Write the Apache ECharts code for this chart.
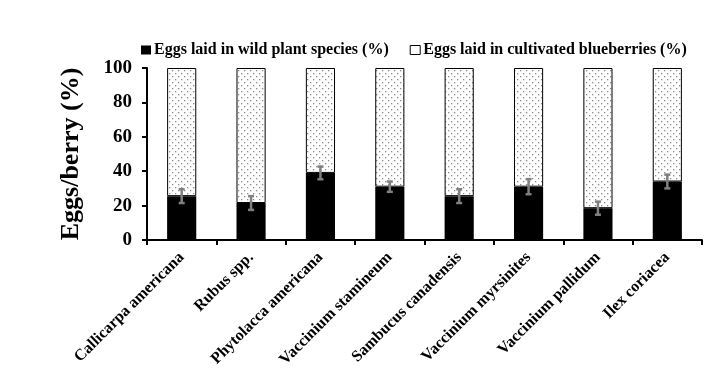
<!DOCTYPE html>
<html><head><meta charset="utf-8">
<script src="https://cdn.jsdelivr.net/npm/echarts@6/dist/echarts.min.js"></script>
<style>html,body{margin:0;padding:0;background:#fff}#c{width:725px;height:381px}</style>
</head><body><div id="c"></div>
<script>
var categories = ['Callicarpa americana','Rubus spp.','Phytolacca americana','Vaccinium stamineum','Sambucus canadensis','Vaccinium myrsinites','Vaccinium pallidum','Ilex coriacea'];
var wildValues = [25.5, 21.5, 39, 31, 25.5, 31, 18.5, 34];
var wildErrors = [4, 4, 3.7, 3, 4, 4.4, 3.8, 4];
var cultivatedValues = [74.5, 78.5, 61, 69, 74.5, 69, 81.5, 66];
var seriesNames = ['Eggs laid in wild plant species (%)', 'Eggs laid in cultivated blueberries (%)'];
var yTicks = [0, 20, 40, 60, 80, 100];

var pc = document.createElement('canvas');
pc.width = 6; pc.height = 6;
var px = pc.getContext('2d');
px.fillStyle = '#fff'; px.fillRect(0,0,6,6);
px.fillStyle = '#8a8a8a';
px.fillRect(1,1,1.3,1.3);
px.fillRect(4,4,1.3,1.3);

var font = '"Liberation Serif","Times New Roman",serif';
var chart = echarts.init(document.getElementById('c'));
chart.setOption({
  animation: false,
  legend: {
    top: 37, left: 136, itemGap: 21, itemWidth: 10, itemHeight: 9, icon: 'rect',
    textStyle: {fontFamily: font, fontWeight: 'bold', fontSize: 16, color: '#000', padding: [0,0,0,-2]},
    data: [
      {name: seriesNames[0], itemStyle: {color: '#000', borderWidth: 0}},
      {name: seriesNames[1], itemStyle: {color: '#fff', borderColor: '#000', borderWidth: 1}}
    ]
  },
  grid: {left: 147, right: 23, top: 68, bottom: 141},
  xAxis: {
    type: 'category', data: categories,
    axisLine: {lineStyle: {color: '#000', width: 2}},
    axisTick: {show: true, length: 5, lineStyle: {color: '#000', width: 2}},
    axisLabel: {rotate: 45, margin: 15, fontFamily: font, fontWeight: 'bold', fontSize: 16, color: '#000', interval: 0}
  },
  yAxis: {
    type: 'value', min: yTicks[0], max: yTicks[yTicks.length-1], interval: 20,
    name: 'Eggs/berry (%)', nameLocation: 'middle', nameGap: 63,
    nameTextStyle: {fontFamily: font, fontWeight: 'bold', fontSize: 26, color: '#000'},
    splitLine: {show: false},
    axisLine: {show: true, lineStyle: {color: '#000', width: 2}},
    axisTick: {show: true, length: 5, lineStyle: {color: '#000', width: 2}},
    axisLabel: {margin: 15, fontFamily: font, fontWeight: 'bold', fontSize: 19, color: '#000'}
  },
  series: [
    {name: seriesNames[0], type: 'bar', stack: 'a', barWidth: '42%', data: wildValues,
     itemStyle: {color: '#000'}},
    {name: seriesNames[1], type: 'bar', stack: 'a', barWidth: '42%', data: cultivatedValues,
     itemStyle: {color: {image: pc, repeat: 'repeat'}, borderColor: '#000', borderWidth: 1}},
    {type: 'custom', name: 'err', z: 10,
     data: wildValues.map(function(v,i){return [i, v - wildErrors[i], v + wildErrors[i]];}),
     renderItem: function(params, api){
       var lo = api.coord([api.value(0), api.value(1)]);
       var hi = api.coord([api.value(0), api.value(2)]);
       var x = lo[0], hw = 3;
       var st = {stroke: '#808080', lineWidth: 2.5};
       return {type: 'group', children: [
         {type: 'line', shape: {x1: x, y1: lo[1], x2: x, y2: hi[1]}, style: st},
         {type: 'line', shape: {x1: x-hw, y1: lo[1], x2: x+hw, y2: lo[1]}, style: st},
         {type: 'line', shape: {x1: x-hw, y1: hi[1], x2: x+hw, y2: hi[1]}, style: st}
       ]};
     }}
  ]
});
</script></body></html>
